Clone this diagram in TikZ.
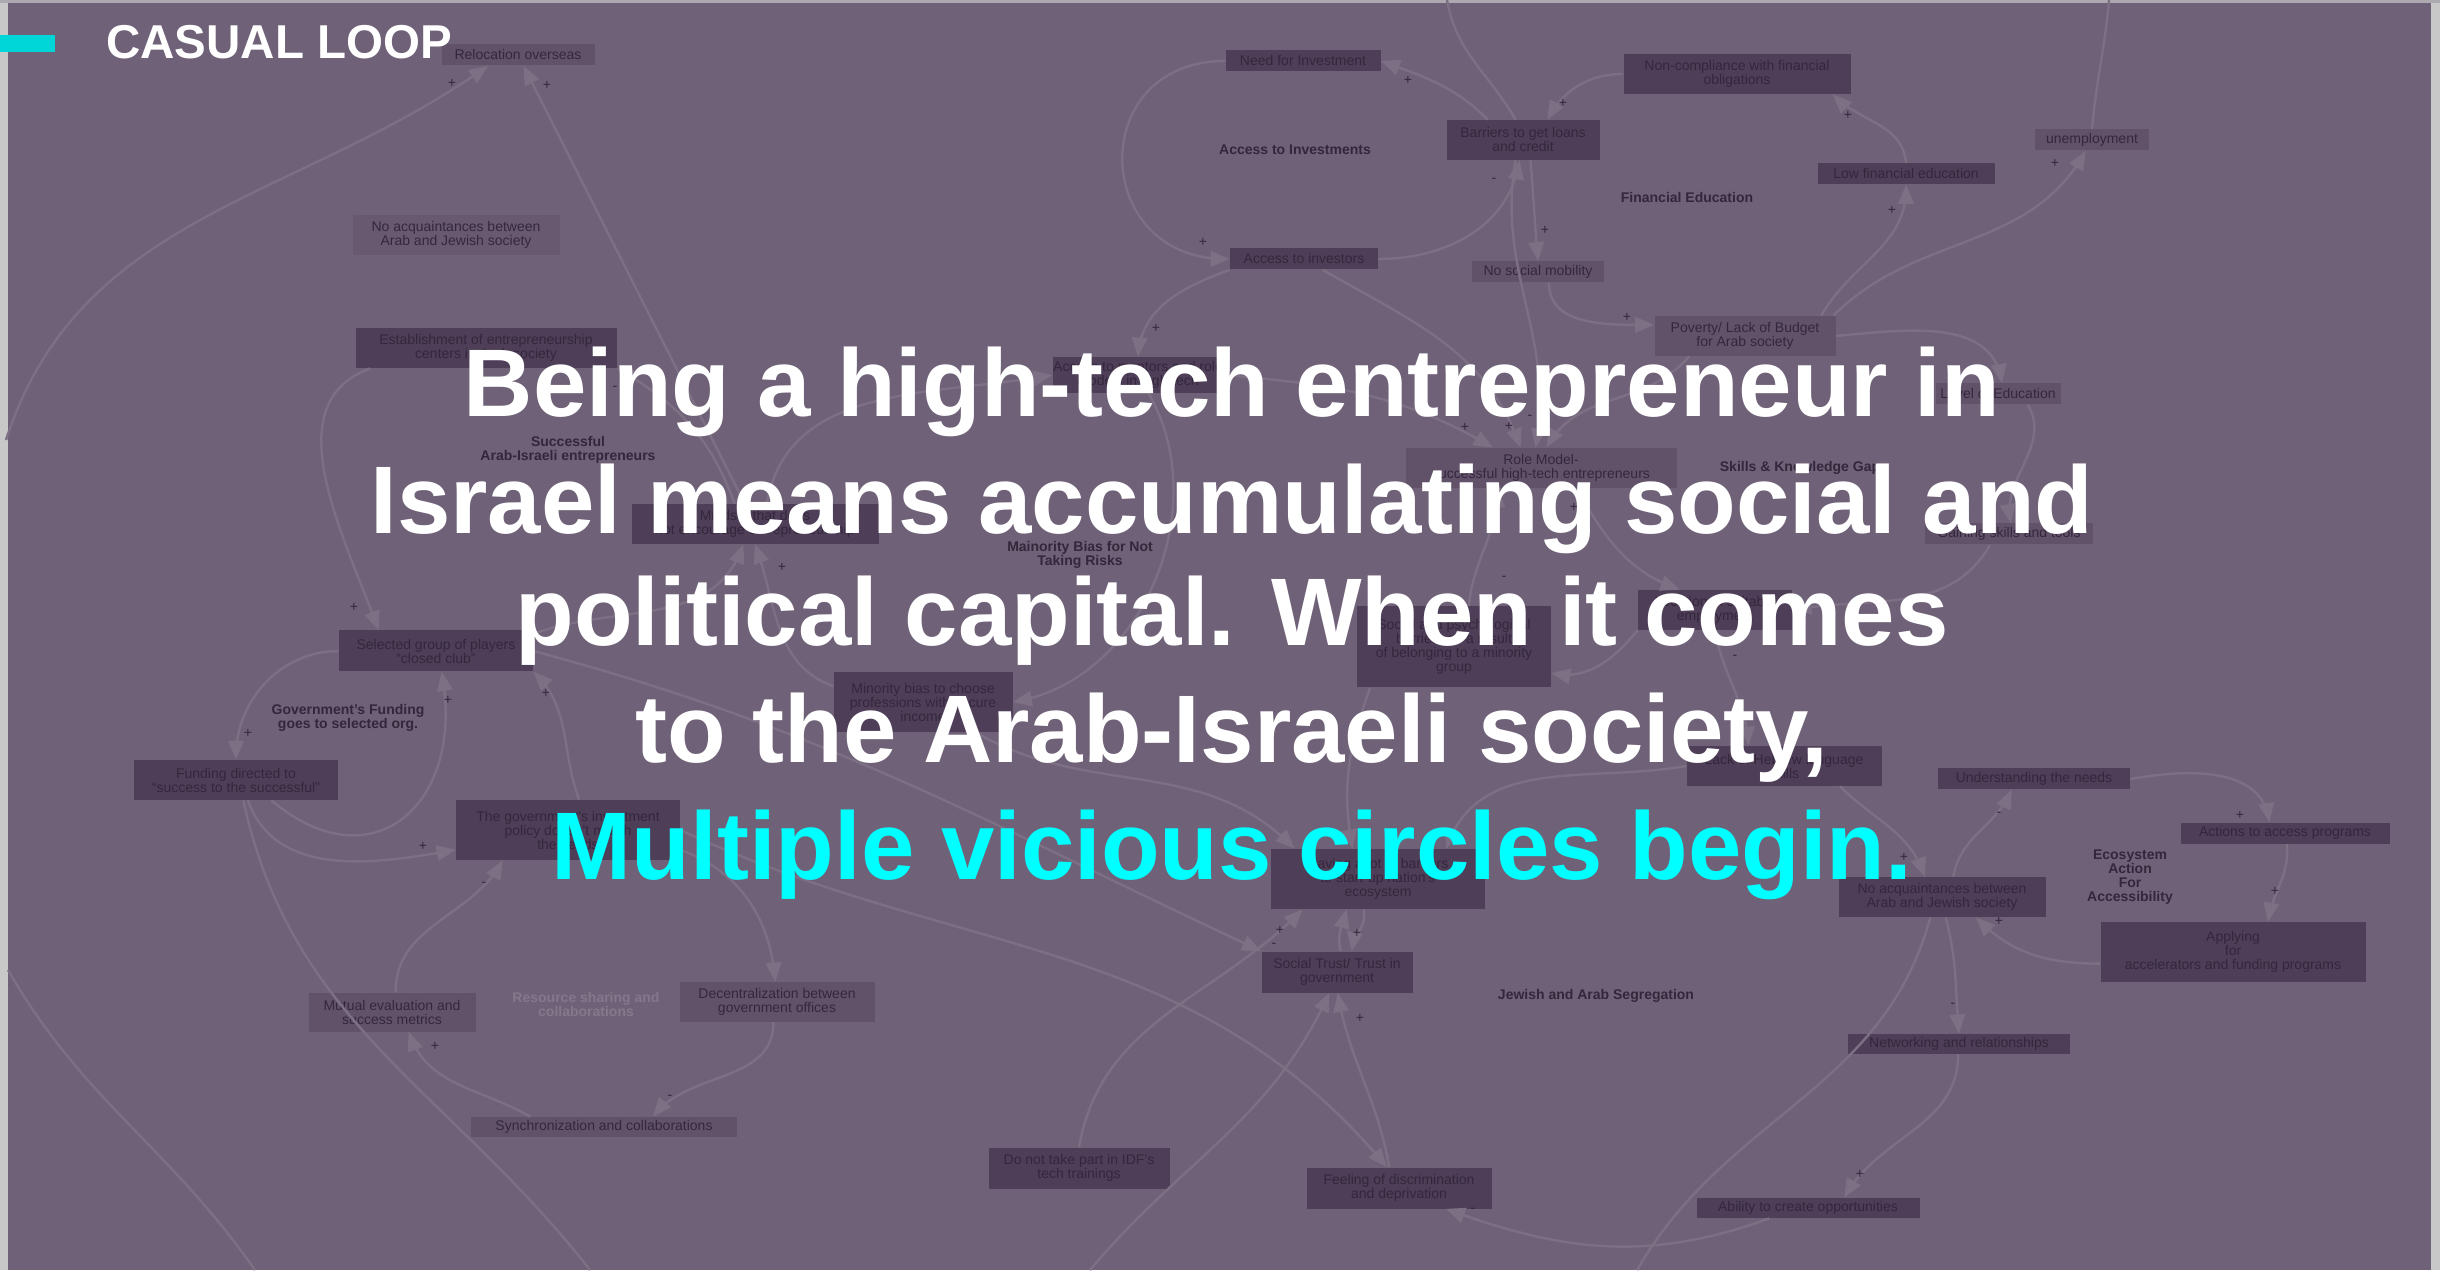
\documentclass[tikz,border=0pt]{standalone}
\usepackage{fontspec}
\setmainfont{Liberation Sans}
\usepackage{tikz}
\usetikzlibrary{positioning}
\usetikzlibrary{arrows}
\usetikzlibrary{calc}

\definecolor{bgpurple}{RGB}{111,97,119}
\definecolor{boxdark}{RGB}{78,62,88}
\definecolor{boxmid}{RGB}{97,82,105}
\definecolor{boxlight}{RGB}{104,89,112}
\definecolor{inktext}{RGB}{52,39,60}
\definecolor{softink}{RGB}{133,120,140}
\definecolor{linecol}{RGB}{125,112,132}
\definecolor{edgegrey}{RGB}{200,200,200}
\definecolor{barcyan}{RGB}{0,214,216}
\definecolor{brightcyan}{RGB}{0,255,255}

\begin{document}
\begin{tikzpicture}[x=0.5pt, y=0.5pt,
  cbox/.style={fill=boxdark, text=inktext, font=\fontsize{7}{7}\selectfont, align=center, inner sep=0pt},
  cboxmid/.style={cbox, fill=boxmid},
  cboxlight/.style={cbox, fill=boxlight},
  boxsize/.style 2 args={minimum width=#1*0.5pt, minimum height=#2*0.5pt},
  looplabel/.style={text=inktext, font=\bfseries\fontsize{7}{7}\selectfont, align=center, inner sep=0pt},
  sign/.style={text=inktext, font=\fontsize{7}{7}\selectfont, inner sep=0pt},
  link/.style={draw=linecol, line width=1.2pt, ->, >=triangle 45},
  wire/.style={draw=linecol, line width=1.2pt},
  headline/.style={anchor=base, text=white, font=\bfseries\fontsize{48}{58}\selectfont, inner sep=0pt}]

  \useasboundingbox (0,0) rectangle (2440,1270);
  % slide background
  \fill[bgpurple] (0,0) rectangle (2440,1270);
  \fill[edgegrey] (0,0) rectangle (8,1270);
  \fill[edgegrey] (2431,0) rectangle (2440,1270);
  \fill[edgegrey!70!bgpurple] (0,1267) rectangle (2440,1270);

  % loose ends of the faint loop diagram
  \coordinate (lA) at (6,830);
  \coordinate (l2) at (8,300);
  \coordinate (b1) at (590,0);
  \coordinate (b2) at (255,0);
  \coordinate (b3) at (1637,0);
  \coordinate (b4) at (1090,0);
  \coordinate (t1) at (1447,1270);
  \coordinate (t2) at (2109,1270);

  % variables
  \node[cboxmid, boxsize={153}{21}] (reloc) at (518,1215) {Relocation overseas};
  \node[cboxlight, boxsize={207}{40}] (noacqA) at (456,1035) {No acquaintances between\\Arab and Jewish society};
  \node[cbox, boxsize={261}{40}] (establish) at (486,922) {Establishment of entrepreneurship\\centers in Arab society};
  \node[cbox, boxsize={155}{21}] (needinv) at (1303,1209) {Need for Investment};
  \node[cbox, boxsize={153}{40}] (barriers) at (1523,1130) {Barriers to get loans\\and credit};
  \node[cbox, boxsize={148}{21}] (accinv) at (1304,1011) {Access to investors};
  \node[cboxmid, boxsize={132}{21}] (nomob) at (1538,998) {No social mobility};
  \node[cbox, boxsize={227}{40}] (noncomp) at (1737,1196) {Non-compliance with financial\\obligations};
  \node[cbox, boxsize={177}{21}] (lowfin) at (1906,1096) {Low financial education};
  \node[cboxmid, boxsize={114}{21}] (unemp) at (2092,1130) {unemployment};
  \node[cboxmid, boxsize={181}{40}] (poverty) at (1745,934) {Poverty/ Lack of Budget\\for Arab society};
  \node[cboxmid, boxsize={125}{21}] (leveled) at (1998,876) {Level of Education};
  \node[cbox, boxsize={171}{36}] (mentors) at (1138,895) {Access to mentors and role\\models in high-tech};
  \node[cbox, boxsize={247}{40}] (mindset) at (755,746) {Mindset that does\\not encourage entrepreneurship};
  \node[cboxmid, boxsize={271}{40}] (rolemodel) at (1541,802) {Role Model-\\successful high-tech entrepreneurs};
  \node[cboxmid, boxsize={168}{21}] (gaining) at (2009,736) {Gaining skills and tools};
  \node[cbox, boxsize={194}{81}] (social) at (1454,623) {Social and psychological\\barriers as a result\\of belonging to a minority\\group};
  \node[cbox, boxsize={154}{40}] (location) at (1715,660) {Location of suitable\\employment};
  \node[cbox, boxsize={194}{41}] (selected) at (436,619) {Selected group of players\\“closed club”};
  \node[cbox, boxsize={179}{60}] (minbias) at (923,568) {Minority bias to choose\\professions with secure\\income};
  \node[cbox, boxsize={204}{40}] (funding) at (236,490) {Funding directed to\\“success to the successful”};
  \node[cbox, boxsize={224}{60}] (govinv) at (568,440) {The government's investment\\policy doesn't match\\the needs};
  \node[cbox, boxsize={195}{40}] (lackheb) at (1784,504) {Lack of Hebrew language\\skills};
  \node[cbox, boxsize={192}{21}] (understand) at (2034,491) {Understanding the needs};
  \node[cbox, boxsize={209}{21}] (actions) at (2285,437) {Actions to access programs};
  \node[cbox, boxsize={214}{60}] (having) at (1378,391) {Having a lot of barriers\\to start-up nation's\\ecosystem};
  \node[cbox, boxsize={151}{41}] (trust) at (1337,298) {Social Trust/ Trust in\\government};
  \node[cbox, boxsize={207}{40}] (noacqB) at (1942,373) {No acquaintances between\\Arab and Jewish society};
  \node[cbox, boxsize={265}{60}] (applying) at (2233,318) {Applying\\for\\accelerators and funding programs};
  \node[cboxmid, boxsize={167}{39}] (mutual) at (392,258) {Mutual evaluation and\\success metrics};
  \node[cboxmid, boxsize={195}{40}] (decentral) at (777,268) {Decentralization between\\government offices};
  \node[cboxmid, boxsize={266}{20}] (sync) at (604,143) {Synchronization and collaborations};
  \node[cbox, boxsize={222}{20}] (networking) at (1959,226) {Networking and relationships};
  \node[cbox, boxsize={223}{20}] (ability) at (1808,62) {Ability to create opportunities};
  \node[cbox, boxsize={181}{41}] (idf) at (1079,102) {Do not take part in IDF's\\tech trainings};
  \node[cbox, boxsize={185}{41}] (feeling) at (1399,82) {Feeling of discrimination\\and deprivation};

  % loop names
  \node[looplabel] (lbInv) at (1295,1120) {Access to Investments};
  \node[looplabel] (lbFin) at (1687,1072) {Financial Education};
  \node[looplabel] (lbSucc) at (568,820) {Successful\\Arab-Israeli entrepreneurs};
  \node[looplabel] (lbGov) at (348,552) {Government's Funding\\goes to selected org.};
  \node[looplabel] (lbRisk) at (1080,715) {Mainority Bias for Not\\Taking Risks};
  \node[looplabel] (lbSkills) at (1800,802) {Skills \& Knowledge Gap};
  \node[looplabel, text=softink] (lbRes) at (586,266) {Resource sharing and\\collaborations};
  \node[looplabel] (lbSeg) at (1596,274) {Jewish and Arab Segregation};
  \node[looplabel] (lbEco) at (2130,393) {Ecosystem\\Action\\For\\Accessibility};

  % government funding loops
  \draw[link] (lA) to[out=72,in=215] (reloc.200);
  \draw[link] (mindset) -- (reloc);
  \draw[link] (mindset.135) to[out=110,in=-30] (establish.south east);
  \draw[link] (establish.190) to[out=200,in=110] (selected.160);
  \draw[link] (selected.west) to[out=180,in=90] (funding.north);
  \draw[link] (funding.-30) to[out=-40,in=-80,looseness=1.6] (selected.-75);
  \draw[link] (govinv.70) to[out=110,in=-45] (selected.south east);
  \draw[link] (selected.10) to[out=20,in=-110] (mindset.-120);
  \draw[link] (selected.east) to[out=-15,in=155] (trust.north west);
  \draw[link] (govinv.east) to[out=-25,in=130] (feeling.120);
  \draw[link] (govinv.-10) to[out=-20,in=95] (decentral.95);
  \draw[link] (decentral.-100) to[out=-90,in=50] (sync.12);
  \draw[link] (sync.172) to[out=150,in=-70] (mutual.-50);
  \draw[link] (mutual.80) to[out=90,in=-120] (govinv.-155);
  \draw[link] (funding.-60) to[out=-70,in=190] (govinv.190);
  \draw[wire] (funding.-70) to[out=-78,in=128] (b1);
  \draw[wire] (l2) to[out=-60,in=125] (b2);

  % investments and financial education
  \draw[link] (barriers.150) to[out=135,in=-20] (needinv.east);
  \draw[link] (needinv.west) to[out=180,in=180,looseness=1.8] (accinv.west);
  \draw[link] (accinv.east) to[out=0,in=-100] (barriers.-100);
  \draw[link] (barriers.-70) to[out=-85,in=95] (nomob.north);
  \draw[wire] (t1) to[out=-80,in=120] (barriers.110);
  \draw[link] (noncomp.west) to[out=180,in=60] (barriers.40);
  \draw[link] (lowfin.north) to[out=95,in=-45] (noncomp.-12);
  \draw[link] (poverty.15) to[out=60,in=-90] (lowfin.south);
  \draw[link] (poverty.13) to[out=45,in=-120] (unemp.-120);
  \draw[wire] (unemp.north) to[out=85,in=-95] (t2);
  \draw[link] (nomob.-45) to[out=-90,in=180] (poverty.173);
  \draw[link] (accinv.south west) to[out=200,in=85] (mentors.north);

  % role models, skills and minority bias
  \draw[link] (mindset.60) to[out=80,in=190] (mentors.west);
  \draw[link] (mentors.east) to[out=-5,in=150] (rolemodel.157);
  \draw[link] (accinv.-30) to[out=-30,in=110] (rolemodel.135);
  \draw[link] (barriers.-110) to[out=-100,in=80] (rolemodel.105);
  \draw[link] (poverty.200) to[out=230,in=60] (rolemodel.75);
  \draw[link] (rolemodel.-30) to[out=-60,in=160] (location.150);
  \draw[link] (social.70) to[out=85,in=-90] (rolemodel.-155);
  \draw[link] (poverty.east) to[out=5,in=100] (leveled.70);
  \draw[link] (leveled.-20) to[out=-60,in=100] (gaining.80);
  \draw[link] (gaining.-150) to[out=-120,in=10] (location.east);
  \draw[link] (location.south west) to[out=230,in=-10] (social.-15);
  \draw[link] (location.south) to[out=-80,in=95] (lackheb.150);
  \draw[link] (minbias.170) to[out=160,in=-70] (mindset.-90);
  \draw[link] (mentors.-60) to[out=-60,in=10] (minbias.east);

  % accessibility and segregation
  \draw[link] (lackheb.-20) to[out=-45,in=110] (noacqB.130);
  \draw[link] (noacqB.61) to[out=80,in=-115] (understand.-154);
  \draw[link] (understand.east) to[out=10,in=100] (actions.145);
  \draw[link] (actions.-80) to[out=-85,in=80] (applying.41);
  \draw[link] (applying.185) to[out=180,in=-45] (noacqB.-31);
  \draw[link] (noacqB.-80) to[out=-75,in=95] (networking.north);
  \draw[link] (networking.-95) to[out=-90,in=60] (ability.16);
  \draw[link] (ability.195) to[out=200,in=-20] (feeling.-24);
  \draw[wire] (noacqB.-120) to[out=-105,in=60] (b3);
  \draw[link] (trust.80) to[out=105,in=-105] (having.-136);
  \draw[link] (having.-115) to[out=-80,in=80] (trust.55);
  \draw[link] (idf.north) to[out=80,in=-135] (having.-158);
  \draw[link] (feeling.115) to[out=100,in=-80] (trust.-88);
  \draw[link] (b4) to[out=50,in=-115] (trust.-110);
  \draw[link] (minbias.-30) to[out=-30,in=135] (having.160);
  \draw[link] (social.-154) to[out=-110,in=100] (having.130);
  \draw[link] (lackheb.west) to[out=190,in=70] (having.24);

  % link polarities
  \foreach \px/\py/\s [count=\k] in {452/1187/+, 547/1185/+, 615/882/-, 354/663/+, 248/537/+,
      448/570/+, 546/577/+, 423/424/+, 484/386/-, 435/224/+, 670/173/-, 1408/1190/+,
      1203/1028/+, 1494/1090/-, 1545/1040/+, 1563/1167/+, 1848/1155/+, 1892/1060/+,
      2055/1107/+, 1627/953/+, 1156/942/+, 1465/843/+, 1509/844/+, 1530/853/-, 782/703/+,
      1574/763/+, 1504/692/-, 1735/613/-, 1904/413/+, 1999/456/-, 2240/455/+, 2275/379/+,
      1999/349/+, 1953/265/-, 1860/96/+, 1473/60/-, 1357/337/+, 1280/340/+, 1274/325/-,
      1360/252/+} {
    \node[sign] (sg\k) at (\px,\py) {\s};
  }

  % slide title
  \fill[barcyan] (0,1218) rectangle (55,1235);
  \node[anchor=base west, inner sep=0pt, text=white, font=\bfseries\fontsize{23.75}{28}\selectfont] (title) at (106,1211) {CASUAL LOOP};

  % overlay statement
  \node[headline] (line1) at (1232,853) {Being a high-tech entrepreneur in};
  \node[headline] (line2) at (1232,736) {Israel means accumulating social and};
  \node[headline] (line3) at (1232,624) {political capital. When it comes};
  \node[headline] (line4) at (1232,508) {to the Arab-Israeli society,};
  \node[headline, text=brightcyan] (line5) at (1232,391) {Multiple vicious circles begin.};
\end{tikzpicture}
\end{document}
